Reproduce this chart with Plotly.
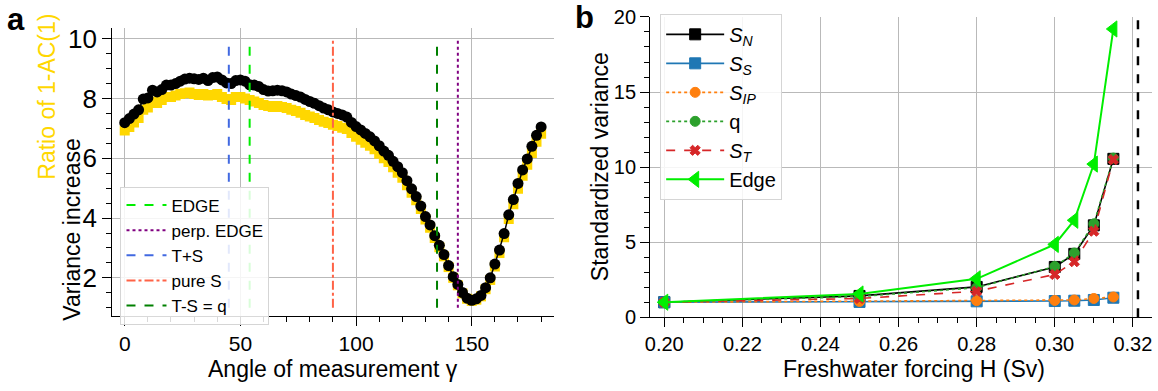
import plotly.graph_objects as go

# ---------------- panel a: rotation angle scan ----------------
angles = list(range(0, 181, 2))

variance_increase = [
    7.19, 7.33, 7.48, 7.62, 7.98, 8.02, 8.28, 8.22, 8.30, 8.45,
    8.45, 8.50, 8.58, 8.65, 8.68, 8.66, 8.64, 8.68, 8.60, 8.70,
    8.72, 8.62, 8.52, 8.50, 8.60, 8.62, 8.58, 8.46, 8.45, 8.40,
    8.30, 8.25, 8.26, 8.28, 8.26, 8.22, 8.15, 8.10, 8.05, 7.97,
    7.90, 7.84, 7.76, 7.68, 7.62, 7.55, 7.50, 7.45, 7.38, 7.20,
    7.06, 6.95, 6.83, 6.72, 6.58, 6.42, 6.24, 6.10, 5.90, 5.72,
    5.52, 5.25, 4.98, 4.72, 4.40, 4.05, 3.77, 3.41, 3.09, 2.78,
    2.41, 2.04, 1.78, 1.51, 1.32, 1.25, 1.30, 1.41, 1.67, 2.00,
    2.46, 2.93, 3.48, 4.11, 4.62, 5.16, 5.61, 5.98, 6.40, 6.77,
    7.05,
]

ac1_ratio = [
    6.93, 7.05, 7.20, 7.35, 7.62, 7.70, 7.90, 7.85, 7.95, 8.05,
    8.05, 8.10, 8.15, 8.18, 8.20, 8.15, 8.12, 8.15, 8.10, 8.12,
    8.15, 8.05, 7.98, 7.95, 8.05, 8.05, 8.00, 7.95, 7.90, 7.85,
    7.78, 7.75, 7.72, 7.75, 7.72, 7.68, 7.62, 7.58, 7.52, 7.45,
    7.40, 7.35, 7.28, 7.22, 7.18, 7.12, 7.08, 7.02, 6.98, 6.85,
    6.72, 6.62, 6.52, 6.42, 6.30, 6.15, 6.00, 5.88, 5.70, 5.52,
    5.35, 5.10, 4.85, 4.60, 4.30, 3.95, 3.68, 3.33, 3.02, 2.72,
    2.36, 2.00, 1.75, 1.48, 1.30, 1.23, 1.27, 1.38, 1.62, 1.93,
    2.38, 2.83, 3.36, 3.97, 4.46, 4.98, 5.42, 5.78, 6.18, 6.55,
    6.82,
]

# reference directions (angle, label, colour, dash)
ref_labels = ["EDGE", "perp. EDGE", "T+S", "pure S", "T-S = q"]
ref_angles = [54, 144, 45, 90, 135]
ref_colors = ["#00ee00", "#800080", "#4169e1", "#ff6347", "#008000"]
ref_dashes = ["dash", "dot", "dash", "dashdot", "dash"]
ref_span = [1, 10]

# ---------------- panel b: forcing scan ----------------
forcing = [0.20, 0.25, 0.28, 0.30, 0.305, 0.31, 0.315]
s_n = [1.0, 1.42, 2.02, 3.35, 4.22, 6.12, 10.55]
s_s = [1.0, 1.02, 1.06, 1.08, 1.10, 1.15, 1.30]
s_ip = [1.0, 1.05, 1.10, 1.12, 1.15, 1.25, 1.35]
q = [1.0, 1.38, 1.97, 3.38, 4.28, 6.22, 10.60]
s_t = [1.0, 1.25, 1.73, 2.85, 3.70, 5.73, 10.50]
edge = [1.0, 1.55, 2.56, 4.85, 6.46, 10.20, 19.20]
tipping_h = 0.3213

FONT = "Liberation Sans, Arial, sans-serif"
W, H = 1158, 391

fig = go.Figure()

fig.add_trace(go.Scatter(
    x=angles, y=ac1_ratio, mode="markers",
    marker=dict(symbol="square", size=10, color="#ffd700"),
    showlegend=False, xaxis="x", yaxis="y"))
fig.add_trace(go.Scatter(
    x=angles, y=variance_increase, mode="lines+markers",
    line=dict(color="black", width=1.5),
    marker=dict(symbol="circle", size=11, color="black"),
    showlegend=False, xaxis="x", yaxis="y"))

for i, (lab, ang, col, dsh) in enumerate(zip(ref_labels, ref_angles, ref_colors, ref_dashes)):
    fig.add_trace(go.Scatter(
        x=[ang, ang], y=ref_span, mode="lines",
        line=dict(color=col, width=2, dash=dsh),
        name=lab, legend="legend", legendgroup=f"a{i}",
        xaxis="x", yaxis="y"))

fig.add_shape(type="line", xref="x2", yref="y2 domain",
              x0=tipping_h, x1=tipping_h, y0=0, y1=1,
              line=dict(color="black", width=2.5, dash="dash"))

series_b = [
    ("<i>S</i><sub><i>N</i></sub>", s_n, "black", "solid", "square", 11),
    ("<i>S</i><sub><i>S</i></sub>", s_s, "#1f77b4", "solid", "square", 11),
    ("<i>S</i><sub><i>IP</i></sub>", s_ip, "#ff7f0e", "dot", "circle", 10),
    ("q", q, "#2ca02c", "dot", "circle", 10),
    ("<i>S</i><sub><i>T</i></sub>", s_t, "#d62728", "dash", "x", 9),
    ("Edge", edge, "#00ee00", "solid", "triangle-left", 14),
]
for i, (name, vals, col, dsh, sym, sz) in enumerate(series_b):
    fig.add_trace(go.Scatter(
        x=forcing, y=vals, mode="lines+markers", name=name,
        line=dict(color=col, width=1.6 if name != "Edge" else 2, dash=dsh),
        marker=dict(symbol=sym, size=sz, color=col,
                    line=dict(width=1, color="black" if col == "black" else col)),
        legend="legend2", legendgroup=f"b{i}",
        xaxis="x2", yaxis="y2"))

def px_x(p):
    return p / W

def px_y(p):
    return 1 - p / H

axis_common = dict(
    showline=True, linecolor="black", linewidth=1.2,
    ticks="outside", ticklen=9, tickwidth=1.2, tickcolor="black",
    showgrid=True, gridcolor="#b9b9b9", gridwidth=1,
    zeroline=False, mirror=False, ticklabeloverflow="allow",
)

def minor(step, start):
    return dict(dtick=step, tick0=start, ticks="outside", ticklen=5,
                tickwidth=1, tickcolor="black", showgrid=False)

fig.update_layout(
    width=W, height=H,
    margin=dict(l=0, r=0, t=0, b=0),
    paper_bgcolor="white", plot_bgcolor="white",
    font=dict(family=FONT, color="black"),
    xaxis=dict(axis_common, domain=[px_x(107.7), px_x(551)], range=[-5.4, 185.4],
               tickvals=[0, 50, 100, 150], tickfont=dict(size=21),
               minor=minor(10, 0), anchor="y"),
    yaxis=dict(axis_common, domain=[px_y(323.3), px_y(18.3)], range=[0.72, 10.35],
               tickvals=[2, 4, 6, 8, 10], tickfont=dict(size=26),
               minor=minor(0.5, 0), anchor="x"),
    xaxis2=dict(axis_common, domain=[px_x(648), px_x(1152)], range=[0.1964, 0.3249],
                tickvals=[0.20, 0.22, 0.24, 0.26, 0.28, 0.30, 0.32],
                ticktext=["0.20", "0.22", "0.24", "0.26", "0.28", "0.30", "0.32"],
                tickfont=dict(size=20), minor=minor(0.005, 0.2), anchor="y2"),
    yaxis2=dict(axis_common, domain=[px_y(324.5), px_y(6)], range=[0, 20.02],
                tickvals=[0, 5, 10, 15, 20], tickfont=dict(size=20),
                minor=minor(1, 0), anchor="x2"),
    legend=dict(x=px_x(116), y=px_y(186), xanchor="left", yanchor="top",
                bgcolor="rgba(255,255,255,0.85)", bordercolor="#d5d5d5", borderwidth=1,
                font=dict(size=17), tracegroupgap=0, itemwidth=40),
    legend2=dict(x=px_x(658), y=px_y(3), xanchor="left", yanchor="top",
                 bgcolor="rgba(255,255,255,0.85)", bordercolor="#d5d5d5", borderwidth=1,
                 font=dict(size=20), tracegroupgap=0, itemwidth=58),
)

annotations = [
    dict(text="<b>a</b>", x=px_x(0), y=px_y(9), xanchor="left", yanchor="middle", font=dict(size=31)),
    dict(text="<b>b</b>", x=px_x(570), y=px_y(7), xanchor="left", yanchor="middle", font=dict(size=31)),
    dict(text="Variance increase", x=px_x(67), y=px_y(232), textangle=-90,
         xanchor="center", yanchor="middle", font=dict(size=23)),
    dict(text="Ratio of 1-AC(1)", x=px_x(42), y=px_y(91), textangle=-90,
         xanchor="center", yanchor="middle", font=dict(size=23, color="#ffd700")),
    dict(text="Angle of measurement γ", x=px_x(329), y=px_y(379),
         xanchor="center", yanchor="middle", font=dict(size=23)),
    dict(text="Freshwater forcing H (Sv)", x=px_x(913), y=px_y(379),
         xanchor="center", yanchor="middle", font=dict(size=23)),
    dict(text="Standardized variance", x=px_x(597), y=px_y(165), textangle=-90,
         xanchor="center", yanchor="middle", font=dict(size=23)),
]
for a in annotations:
    a.update(xref="paper", yref="paper", showarrow=False)
fig.update_layout(annotations=annotations)

fig.write_html("out.html")
